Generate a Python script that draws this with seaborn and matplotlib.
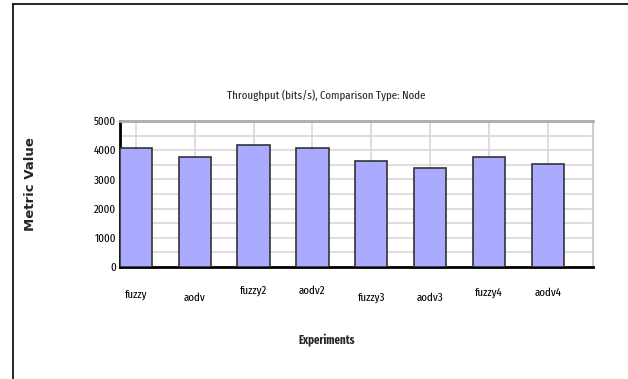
import numpy as np
import pandas as pd
import matplotlib
matplotlib.use("Agg")
import matplotlib.pyplot as plt
import seaborn as sns
from matplotlib.lines import Line2D
from matplotlib import transforms

# données
experiments = ["fuzzy", "aodv", "fuzzy2", "aodv2", "fuzzy3", "aodv3", "fuzzy4", "aodv4"]
throughput = [4070, 3770, 4190, 4080, 3620, 3380, 3770, 3540]
y_ticks = [0, 1000, 2000, 3000, 4000, 5000]
# décalage vertical (px) des étiquettes, comme dans l'original
label_drop = [-1, 2, -5, -5, 2, 2, -3, -3]

df = pd.DataFrame({"Experiment": experiments, "Throughput": throughput})

sns.set_style("white")
plt.rcParams["font.family"] = ["Fira Sans Extra Condensed", "DejaVu Sans"]

W, H = 628, 379
fig = plt.figure(figsize=(W / 100, H / 100), dpi=100)
fig.patch.set_facecolor("white")
ax = fig.add_axes([120 / W, 1 - 267 / H, (593 - 120) / W, (267 - 121) / H])

sns.barplot(data=df, x="Experiment", y="Throughput", color="#aaaaff",
            saturation=1, width=0.55, edgecolor="#333333", linewidth=1.2, ax=ax, zorder=3)

ax.set_xlim(-0.27, 7.77)
ax.set_ylim(0, 5000)
ax.set_yticks(y_ticks)
ax.set_yticks(np.arange(500, 5000, 1000), minor=True)
ax.set_yticklabels([str(v) for v in y_ticks], fontsize=8.5, color="black")
ax.tick_params(axis="y", which="major", length=3, width=1.5, color="black", pad=0)
ax.tick_params(axis="y", which="minor", length=0)
ax.tick_params(axis="x", length=6, width=1.5, color="black", pad=11, labelsize=8.5,
               labelcolor="black")

ax.grid(True, which="both", axis="y", color="#d8d8d8", linewidth=1.2, zorder=0)
ax.grid(True, which="major", axis="x", color="#d8d8d8", linewidth=1.2, zorder=0)
ax.set_axisbelow(True)

for side in ["left", "bottom"]:
    ax.spines[side].set_color("black")
    ax.spines[side].set_linewidth(2)
ax.spines["top"].set_color("#aaaaaa")
ax.spines["top"].set_linewidth(2)
ax.spines["right"].set_color("#cccccc")
ax.spines["right"].set_linewidth(1.5)

for lab, d in zip(ax.get_xticklabels(), label_drop):
    lab.set_transform(lab.get_transform() + transforms.ScaledTranslation(0, -d / 100, fig.dpi_scale_trans))

ax.set_xlabel("")
ax.set_ylabel("")
fig.text(327 / W, 1 - 340 / H, "Experiments", ha="center", va="center",
         fontsize=8.5, fontweight="bold")
fig.text(30 / W, 1 - 184 / H, "Metric Value", ha="center", va="center", rotation=90,
         fontsize=9.5, fontweight="bold", family=["DejaVu Sans"])
fig.text(326 / W, 1 - 95 / H, "Throughput (bits/s), Comparison Type: Node",
         ha="center", va="center", fontsize=8.5)

# cadre extérieur
fig.add_artist(Line2D([13 / W, 13 / W], [0, 1 - 4 / H], color="black", linewidth=1.2))
fig.add_artist(Line2D([13 / W, 1], [1 - 4 / H, 1 - 4 / H], color="black", linewidth=1.2))

fig.savefig("out.png", dpi=100, facecolor="white")
